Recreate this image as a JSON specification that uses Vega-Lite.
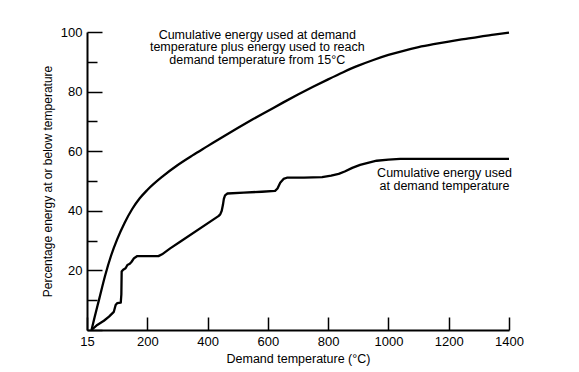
{
  "$schema": "https://vega.github.io/schema/vega-lite/v6.json",
  "width": 422,
  "height": 298,
  "autosize": {"type": "none"},
  "padding": {"left": 87, "top": 32, "right": 70, "bottom": 42},
  "background": "white",
  "config": {
    "view": {"stroke": null},
    "font": "Liberation Sans",
    "axis": {
      "grid": false,
      "domainColor": "black",
      "domainWidth": 2,
      "tickColor": "black",
      "tickWidth": 1.5,
      "labelColor": "black",
      "labelFont": "Liberation Sans",
      "labelFontSize": 13,
      "labelFlush": false,
      "titleColor": "black",
      "titleFont": "Liberation Sans",
      "titleFontWeight": "normal"
    }
  },
  "datasets": {
    "curves": [
      {"series": "upper", "temperature": 15, "percent": 0},
      {"series": "upper", "temperature": 25, "percent": 4.2},
      {"series": "upper", "temperature": 40, "percent": 10.2},
      {"series": "upper", "temperature": 60, "percent": 18.2},
      {"series": "upper", "temperature": 80, "percent": 25},
      {"series": "upper", "temperature": 100, "percent": 30.4},
      {"series": "upper", "temperature": 125, "percent": 36},
      {"series": "upper", "temperature": 150, "percent": 40.6},
      {"series": "upper", "temperature": 175, "percent": 44.2},
      {"series": "upper", "temperature": 200, "percent": 47},
      {"series": "upper", "temperature": 250, "percent": 51.5},
      {"series": "upper", "temperature": 300, "percent": 55.3},
      {"series": "upper", "temperature": 350, "percent": 58.6},
      {"series": "upper", "temperature": 400, "percent": 61.7},
      {"series": "upper", "temperature": 450, "percent": 64.8},
      {"series": "upper", "temperature": 500, "percent": 67.8},
      {"series": "upper", "temperature": 550, "percent": 70.7},
      {"series": "upper", "temperature": 600, "percent": 73.5},
      {"series": "upper", "temperature": 650, "percent": 76.3},
      {"series": "upper", "temperature": 700, "percent": 79},
      {"series": "upper", "temperature": 750, "percent": 81.6},
      {"series": "upper", "temperature": 800, "percent": 84.1},
      {"series": "upper", "temperature": 850, "percent": 86.5},
      {"series": "upper", "temperature": 900, "percent": 88.7},
      {"series": "upper", "temperature": 950, "percent": 90.6},
      {"series": "upper", "temperature": 1000, "percent": 92.3},
      {"series": "upper", "temperature": 1050, "percent": 93.7},
      {"series": "upper", "temperature": 1100, "percent": 94.9},
      {"series": "upper", "temperature": 1150, "percent": 95.9},
      {"series": "upper", "temperature": 1200, "percent": 96.8},
      {"series": "upper", "temperature": 1250, "percent": 97.6},
      {"series": "upper", "temperature": 1300, "percent": 98.4},
      {"series": "upper", "temperature": 1350, "percent": 99.1},
      {"series": "upper", "temperature": 1400, "percent": 99.8},
      {"series": "lower", "temperature": 15, "percent": 0},
      {"series": "lower", "temperature": 34, "percent": 1.7},
      {"series": "lower", "temperature": 56, "percent": 3.1},
      {"series": "lower", "temperature": 73, "percent": 4.5},
      {"series": "lower", "temperature": 89, "percent": 6.1},
      {"series": "lower", "temperature": 95, "percent": 8.4},
      {"series": "lower", "temperature": 100, "percent": 9.0},
      {"series": "lower", "temperature": 112, "percent": 9.2},
      {"series": "lower", "temperature": 114, "percent": 12},
      {"series": "lower", "temperature": 115, "percent": 19.6},
      {"series": "lower", "temperature": 120, "percent": 20.2},
      {"series": "lower", "temperature": 128, "percent": 20.7},
      {"series": "lower", "temperature": 134, "percent": 21.8},
      {"series": "lower", "temperature": 142, "percent": 22.2},
      {"series": "lower", "temperature": 148, "percent": 22.9},
      {"series": "lower", "temperature": 156, "percent": 24.1},
      {"series": "lower", "temperature": 167, "percent": 24.8},
      {"series": "lower", "temperature": 200, "percent": 24.8},
      {"series": "lower", "temperature": 237, "percent": 24.8},
      {"series": "lower", "temperature": 249, "percent": 25.4},
      {"series": "lower", "temperature": 276, "percent": 27.4},
      {"series": "lower", "temperature": 309, "percent": 29.6},
      {"series": "lower", "temperature": 436, "percent": 38.2},
      {"series": "lower", "temperature": 442, "percent": 38.8},
      {"series": "lower", "temperature": 447, "percent": 40},
      {"series": "lower", "temperature": 451, "percent": 42},
      {"series": "lower", "temperature": 454, "percent": 44},
      {"series": "lower", "temperature": 458, "percent": 45.2},
      {"series": "lower", "temperature": 466, "percent": 45.8},
      {"series": "lower", "temperature": 520, "percent": 46.1},
      {"series": "lower", "temperature": 580, "percent": 46.4},
      {"series": "lower", "temperature": 624, "percent": 46.7},
      {"series": "lower", "temperature": 632, "percent": 47.5},
      {"series": "lower", "temperature": 641, "percent": 49.4},
      {"series": "lower", "temperature": 652, "percent": 50.7},
      {"series": "lower", "temperature": 663, "percent": 51.1},
      {"series": "lower", "temperature": 720, "percent": 51.1},
      {"series": "lower", "temperature": 780, "percent": 51.3},
      {"series": "lower", "temperature": 810, "percent": 51.8},
      {"series": "lower", "temperature": 835, "percent": 52.4},
      {"series": "lower", "temperature": 855, "percent": 53.2},
      {"series": "lower", "temperature": 880, "percent": 54.4},
      {"series": "lower", "temperature": 906, "percent": 55.4},
      {"series": "lower", "temperature": 935, "percent": 56.2},
      {"series": "lower", "temperature": 961, "percent": 56.8},
      {"series": "lower", "temperature": 1000, "percent": 57.2},
      {"series": "lower", "temperature": 1039, "percent": 57.4},
      {"series": "lower", "temperature": 1400, "percent": 57.4}
    ],
    "labels": [
      {"temperature": 565, "percent": 97.8, "text": "Cumulative energy used at demand"},
      {"temperature": 565, "percent": 93.6, "text": "temperature plus energy used to reach"},
      {"temperature": 565, "percent": 89.3, "text": "demand temperature from 15°C"},
      {"temperature": 1186, "percent": 51.3, "text": "Cumulative energy used"},
      {"temperature": 1186, "percent": 47.0, "text": "at demand temperature"}
    ]
  },
  "encoding": {
    "x": {
      "field": "temperature",
      "type": "quantitative",
      "scale": {"domain": [0, 1400], "nice": false, "zero": false},
      "axis": {
        "values": [0, 200, 400, 600, 800, 1000, 1200, 1400],
        "labelExpr": "datum.value === 0 ? '15' : datum.label",
        "format": "d",
        "tickSize": -13,
        "labelPadding": 18,
        "title": "Demand temperature (°C)",
        "titleFontSize": 12.5,
        "titlePadding": 4
      }
    },
    "y": {
      "field": "percent",
      "type": "quantitative",
      "scale": {"domain": [0, 100], "nice": false},
      "axis": {
        "values": [0, 10, 20, 30, 40, 50, 60, 70, 80, 90, 100],
        "labelExpr": "datum.value % 20 === 0 && datum.value > 0 ? datum.label : ''",
        "tickSize": {"condition": {"test": "datum.value % 20 === 0", "value": -15}, "value": -10},
        "labelPadding": 20,
        "title": "Percentage energy at or below temperature",
        "titleFontSize": 12,
        "titlePadding": 6
      }
    }
  },
  "layer": [
    {
      "data": {"name": "curves"},
      "transform": [{"filter": "datum.series === 'upper'"}],
      "mark": {"type": "line", "interpolate": "monotone", "color": "black", "strokeWidth": 2.3}
    },
    {
      "data": {"name": "curves"},
      "transform": [{"filter": "datum.series === 'lower'"}],
      "mark": {"type": "line", "interpolate": "linear", "color": "black", "strokeWidth": 2.3, "strokeJoin": "round"}
    },
    {
      "data": {"name": "labels"},
      "mark": {"type": "text", "align": "center", "baseline": "alphabetic", "font": "Liberation Sans", "fontSize": 12.5, "color": "black"},
      "encoding": {"text": {"field": "text"}}
    }
  ]
}
